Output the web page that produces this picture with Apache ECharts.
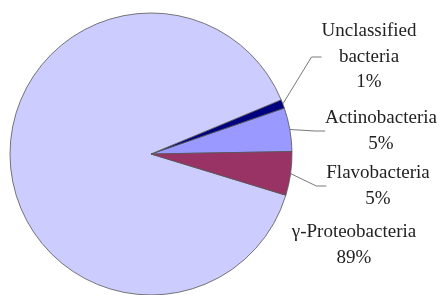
<!DOCTYPE html>
<html><head><meta charset="utf-8">
<script src="https://cdn.jsdelivr.net/npm/echarts@6/dist/echarts.min.js"></script>
<style>html,body{margin:0;padding:0;background:#fff}#c{width:443px;height:295px}</style>
</head><body><div id="c"></div>
<script>
const categories = ['Actinobacteria', 'Unclassified\nbacteria', 'γ-Proteobacteria', 'Flavobacteria'];
const values = [5, 1, 89, 5];
const percentLabels = ['5%', '1%', '89%', '5%'];
const colors = ['#9999FF', '#000080', '#CCCCFF', '#993366'];
const labelPos = [[381, 131], [369, 57], [354, 245], [378, 186]];
const FONT = 'Liberation Serif';

const chart = echarts.init(document.getElementById('c'), null, {renderer: 'canvas'});
chart.setOption({
  animation: false,
  textStyle: {fontFamily: FONT},
  series: [{
    type: 'pie',
    center: [151, 154],
    radius: 141,
    startAngle: 1,
    clockwise: false,
    avoidLabelOverlap: false,
    data: categories.map((n, i) => ({
      name: n, value: values[i],
      itemStyle: {color: colors[i]},
      labelLine: {show: i !== 2}
    })),
    itemStyle: {borderColor: '#555', borderWidth: 0.8},
    label: {
      show: true,
      formatter: p => p.name + '\n' + percentLabels[p.dataIndex],
      fontFamily: FONT,
      fontSize: 19,
      lineHeight: 25.5,
      color: '#222',
      align: 'center',
      overflow: 'none'
    },
    labelLine: {show: true, length: 15, length2: 10, lineStyle: {color: '#555', width: 0.8}},
    labelLayout: p => ({
      x: labelPos[p.dataIndex][0],
      y: labelPos[p.dataIndex][1],
      align: 'center',
      verticalAlign: 'middle',
      hideOverlap: false
    })
  }]
});
</script></body></html>
